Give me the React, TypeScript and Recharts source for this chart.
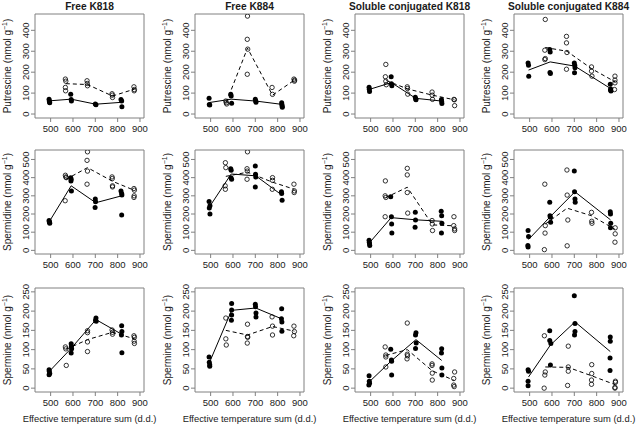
import React from 'react';
import { ScatterChart, Scatter, XAxis, YAxis, ReferenceArea } from 'recharts';

type Pt = [number, number];

// ---------- tick labels / categories ----------
const columnTitles = ['Free K818', 'Free K884', 'Soluble conjugated K818', 'Soluble conjugated K884'];
const rowNames = ['Putrescine', 'Spermidine', 'Spermine'];
const xTicks = [500, 600, 700, 800, 900];
const putTicks = [0, 100, 200, 300, 400];
const spdTicks = [0, 100, 200, 300, 400, 500];
const spmTicks = [0, 50, 100, 150, 200, 250];
const xLabel = 'Effective temperature sum (d.d.)';

// ---------- Putrescine ----------
const putFreeK818Filled: Pt[] = [[493, 71], [494, 62], [496, 54], [495, 58], [590, 94], [592, 70], [593, 62], [700, 48], [703, 44], [815, 70], [818, 62], [819, 35]];
const putFreeK818Open: Pt[] = [[566, 167], [568, 157], [566, 127], [567, 111], [663, 159], [664, 146], [665, 135], [775, 97], [776, 90], [777, 79], [873, 130], [875, 117], [874, 111]];
const putFreeK818Solid: Pt[] = [[495, 63], [592, 71], [702, 47], [818, 56]];
const putFreeK818Dashed: Pt[] = [[568, 145], [665, 141], [777, 86], [875, 119]];

const putFreeK884Filled: Pt[] = [[493, 75], [494, 46], [496, 43], [590, 94], [592, 86], [594, 51], [700, 71], [702, 62], [703, 56], [818, 54], [819, 46], [820, 38], [821, 32]];
const putFreeK884Open: Pt[] = [[568, 62], [570, 54], [572, 48], [665, 468], [664, 357], [666, 310], [664, 190], [775, 127], [777, 94], [873, 167], [875, 157], [876, 162]];
const putFreeK884Solid: Pt[] = [[495, 55], [592, 71], [702, 62], [820, 46]];
const putFreeK884Dashed: Pt[] = [[570, 55], [665, 315], [777, 90], [875, 162]];

const putSolK818Filled: Pt[] = [[493, 128], [494, 118], [495, 108], [592, 178], [593, 145], [595, 135], [700, 80], [702, 72], [703, 68], [817, 70], [818, 60], [819, 50]];
const putSolK818Open: Pt[] = [[568, 237], [566, 178], [568, 157], [570, 140], [664, 130], [665, 122], [666, 95], [775, 105], [776, 90], [777, 70], [873, 70], [875, 68], [876, 40]];
const putSolK818Solid: Pt[] = [[495, 118], [593, 150], [702, 75], [818, 62]];
const putSolK818Dashed: Pt[] = [[570, 160], [665, 120], [777, 90], [875, 68]];

const putSolK884Filled: Pt[] = [[493, 244], [495, 233], [496, 181], [590, 308], [592, 297], [591, 198], [593, 194], [700, 244], [702, 233], [703, 221], [701, 197], [861, 142], [863, 120], [862, 115], [864, 110]];
const putSolK884Open: Pt[] = [[570, 452], [568, 305], [570, 265], [568, 260], [665, 371], [665, 340], [667, 294], [665, 214], [777, 225], [777, 205], [779, 181], [882, 181], [882, 162], [882, 149], [880, 117]];
const putSolK884Solid: Pt[] = [[495, 210], [592, 249], [702, 229], [862, 122]];
const putSolK884Dashed: Pt[] = [[570, 318], [667, 300], [777, 217], [882, 154]];

// ---------- Spermidine ----------
const spdFreeK818Filled: Pt[] = [[493, 164], [494, 158], [495, 155], [496, 149], [590, 400], [592, 391], [591, 382], [593, 327], [700, 282], [701, 267], [699, 236], [815, 327], [818, 313], [819, 304], [818, 195]];
const spdFreeK818Open: Pt[] = [[566, 413], [568, 404], [570, 400], [565, 273], [665, 542], [663, 495], [665, 436], [663, 364], [775, 404], [776, 395], [777, 355], [777, 349], [873, 340], [875, 331], [874, 300], [873, 291]];
const spdFreeK818Solid: Pt[] = [[495, 160], [592, 355], [702, 262], [818, 300]];
const spdFreeK818Dashed: Pt[] = [[568, 390], [665, 455], [777, 380], [875, 330]];

const spdFreeK884Filled: Pt[] = [[493, 269], [494, 233], [497, 245], [497, 200], [590, 449], [592, 440], [591, 400], [594, 391], [700, 464], [701, 418], [702, 404], [700, 349], [817, 322], [818, 313], [820, 276]];
const spdFreeK884Open: Pt[] = [[566, 482], [568, 455], [565, 355], [566, 336], [665, 542], [663, 449], [664, 436], [663, 391], [777, 400], [777, 385], [776, 336], [873, 364], [875, 327], [874, 318]];
const spdFreeK884Solid: Pt[] = [[495, 240], [592, 420], [702, 410], [818, 305]];
const spdFreeK884Dashed: Pt[] = [[568, 407], [665, 430], [777, 375], [875, 336]];

const spdSolK818Filled: Pt[] = [[493, 55], [494, 45], [495, 36], [496, 27], [590, 295], [593, 185], [594, 145], [595, 95], [700, 209], [701, 167], [699, 127], [816, 215], [818, 191], [819, 149], [817, 95]];
const spdSolK818Open: Pt[] = [[566, 382], [565, 300], [568, 291], [565, 185], [664, 451], [664, 415], [664, 318], [666, 205], [775, 164], [776, 145], [777, 109], [873, 185], [872, 136], [876, 118], [876, 109]];
const spdSolK818Solid: Pt[] = [[495, 42], [592, 180], [702, 168], [818, 160]];
const spdSolK818Dashed: Pt[] = [[567, 290], [664, 347], [777, 140], [875, 135]];

const spdSolK884Filled: Pt[] = [[493, 109], [495, 76], [492, 27], [493, 18], [590, 264], [591, 191], [593, 182], [594, 155], [700, 436], [701, 322], [703, 282], [704, 264], [861, 213], [862, 200], [863, 149], [862, 124]];
const spdSolK884Open: Pt[] = [[568, 364], [570, 136], [569, 95], [566, 4], [667, 442], [668, 304], [671, 167], [668, 25], [777, 209], [778, 160], [779, 149], [883, 124], [883, 91], [882, 45]];
const spdSolK884Solid: Pt[] = [[495, 60], [592, 185], [703, 322], [862, 168]];
const spdSolK884Dashed: Pt[] = [[570, 145], [668, 232], [778, 190], [883, 115]];

// ---------- Spermine ----------
const spmFreeK818Filled: Pt[] = [[493, 48], [494, 44], [496, 38], [493, 35], [592, 115], [593, 109], [594, 102], [592, 91], [703, 182], [701, 176], [704, 174], [818, 162], [819, 147], [817, 138], [819, 92]];
const spmFreeK818Open: Pt[] = [[566, 107], [568, 102], [570, 59], [665, 149], [665, 144], [665, 120], [665, 95], [775, 151], [777, 145], [777, 140], [873, 136], [875, 132], [874, 122], [875, 116]];
const spmFreeK818Solid: Pt[] = [[495, 44], [593, 104], [703, 178], [818, 140]];
const spmFreeK818Dashed: Pt[] = [[570, 101], [665, 126], [777, 145], [875, 128]];

const spmFreeK884Filled: Pt[] = [[493, 81], [494, 67], [496, 61], [496, 57], [594, 220], [594, 203], [594, 190], [593, 176], [700, 218], [701, 211], [703, 195], [703, 185], [818, 206], [817, 180], [819, 172], [819, 148]];
const spmFreeK884Open: Pt[] = [[568, 182], [568, 128], [570, 112], [665, 166], [665, 134], [666, 132], [664, 117], [775, 185], [777, 161], [777, 138], [873, 161], [875, 147], [872, 136]];
const spmFreeK884Solid: Pt[] = [[495, 67], [594, 202], [702, 208], [818, 180]];
const spmFreeK884Dashed: Pt[] = [[568, 150], [665, 138], [777, 160], [875, 148]];

const spmSolK818Filled: Pt[] = [[493, 32], [494, 18], [495, 13], [492, 8], [590, 101], [593, 73], [594, 70], [594, 34], [703, 144], [701, 138], [704, 117], [701, 103], [818, 102], [817, 91], [819, 52], [819, 34]];
const spmSolK818Open: Pt[] = [[565, 107], [568, 86], [568, 81], [568, 55], [664, 169], [664, 88], [665, 84], [663, 76], [775, 63], [775, 59], [776, 39], [776, 21], [876, 42], [872, 25], [872, 8], [874, 4]];
const spmSolK818Solid: Pt[] = [[495, 17], [593, 71], [703, 126], [818, 72]];
const spmSolK818Dashed: Pt[] = [[568, 85], [664, 100], [776, 45], [874, 20]];

const spmSolK884Filled: Pt[] = [[493, 48], [495, 44], [493, 18], [493, 6], [590, 149], [590, 124], [595, 116], [593, 60], [700, 240], [703, 168], [703, 147], [701, 138], [861, 133], [861, 122], [860, 78], [860, 46]];
const spmSolK884Open: Pt[] = [[566, 136], [570, 42], [568, 34], [565, 0], [673, 109], [673, 55], [673, 44], [670, 7], [778, 61], [778, 38], [777, 21], [777, 10], [884, 18], [884, 15], [882, 2], [882, 0]];
const spmSolK884Solid: Pt[] = [[495, 29], [593, 112], [703, 172], [861, 95]];
const spmSolK884Dashed: Pt[] = [[570, 55], [672, 54], [778, 32], [883, 9]];

// ---------- layout ----------
const COL_LEFT = [35, 195, 355, 514];
const ROW_TOP = [14, 150, 288];
const BOX_W = 109;
const BOX_H = 104;
const ML = 30;
const MT = 5;
const MR = 5;
const MB = 24;
const X_DOMAIN: [number, number] = [430, 918];
const Y_DOMAINS: [number, number][] = [[-19, 478], [-20, 552], [-10, 260]];
const Y_TICKS = [putTicks, spdTicks, spmTicks];
const AX = '#808080';
const TXT = '#1a1a1a';
const FONT = '"Liberation Sans", Arial, Helvetica, sans-serif';

const panels = [
  [
    [putFreeK818Filled, putFreeK818Open, putFreeK818Solid, putFreeK818Dashed],
    [putFreeK884Filled, putFreeK884Open, putFreeK884Solid, putFreeK884Dashed],
    [putSolK818Filled, putSolK818Open, putSolK818Solid, putSolK818Dashed],
    [putSolK884Filled, putSolK884Open, putSolK884Solid, putSolK884Dashed],
  ],
  [
    [spdFreeK818Filled, spdFreeK818Open, spdFreeK818Solid, spdFreeK818Dashed],
    [spdFreeK884Filled, spdFreeK884Open, spdFreeK884Solid, spdFreeK884Dashed],
    [spdSolK818Filled, spdSolK818Open, spdSolK818Solid, spdSolK818Dashed],
    [spdSolK884Filled, spdSolK884Open, spdSolK884Solid, spdSolK884Dashed],
  ],
  [
    [spmFreeK818Filled, spmFreeK818Open, spmFreeK818Solid, spmFreeK818Dashed],
    [spmFreeK884Filled, spmFreeK884Open, spmFreeK884Solid, spmFreeK884Dashed],
    [spmSolK818Filled, spmSolK818Open, spmSolK818Solid, spmSolK818Dashed],
    [spmSolK884Filled, spmSolK884Open, spmSolK884Solid, spmSolK884Dashed],
  ],
];

const toObj = (a: Pt[]) => a.map(([x, y]) => ({ x, y }));

const FilledDot = (p: any) => <circle cx={p.cx} cy={p.cy} r={2.5} fill="#000" />;
const OpenDot = (p: any) => <circle cx={p.cx} cy={p.cy} r={2.2} fill="none" stroke="#000" strokeWidth={0.8} />;
const NoDot = () => <g />;

const XTick = (p: any) => (
  <g>
    <text x={p.x} y={MT + BOX_H + 11} dy="0.35em" textAnchor="middle" fontSize={9.5} fill={TXT} fontFamily={FONT}>
      {p.payload.value}
    </text>
  </g>
);

const YTick = (p: any) => {
  const cx = ML - 9;
  return (
    <g>
      <text x={cx} y={p.y} dy="0.35em" textAnchor="middle" fontSize={9.5} fill={TXT} fontFamily={FONT} transform={`rotate(-90, ${cx}, ${p.y})`}>
        {p.payload.value}
      </text>
    </g>
  );
};

function Panel({ row, col }: { row: number; col: number }) {
  const [filled, open, solid, dashed] = panels[row][col];
  const yDomain = Y_DOMAINS[row];
  return (
    <div style={{ position: 'absolute', left: COL_LEFT[col] - ML, top: ROW_TOP[row] - MT }}>
      <ScatterChart width={ML + BOX_W + MR} height={MT + BOX_H + MB} margin={{ top: MT, right: MR, bottom: 0, left: 0 }}>
        <XAxis
          type="number"
          dataKey="x"
          domain={X_DOMAIN}
          ticks={xTicks}
          allowDataOverflow
          axisLine={false}
          tickSize={4}
          tickLine={{ stroke: AX }}
          tick={XTick}
          height={MB}
          interval={0}
        />
        <YAxis
          type="number"
          dataKey="y"
          domain={yDomain}
          ticks={Y_TICKS[row]}
          allowDataOverflow
          axisLine={false}
          tickSize={4}
          tickLine={{ stroke: AX }}
          tick={YTick}
          width={ML}
          interval={0}
        />
        <ReferenceArea x1={X_DOMAIN[0]} x2={X_DOMAIN[1]} y1={yDomain[0]} y2={yDomain[1]} fill="none" stroke={AX} strokeWidth={1} ifOverflow="visible" />
        <Scatter data={toObj(solid)} line={{ stroke: '#000', strokeWidth: 1 }} shape={NoDot} isAnimationActive={false} />
        <Scatter data={toObj(dashed)} line={{ stroke: '#000', strokeWidth: 1, strokeDasharray: '4 3' }} shape={NoDot} isAnimationActive={false} />
        <Scatter data={toObj(filled)} shape={FilledDot} isAnimationActive={false} />
        <Scatter data={toObj(open)} shape={OpenDot} isAnimationActive={false} />
      </ScatterChart>
    </div>
  );
}

export default function App() {
  return (
    <div style={{ position: 'absolute', left: 0, top: 0, width: 638, height: 426, background: '#fff', fontFamily: FONT }}>
      {[0, 1, 2].map((r) => [0, 1, 2, 3].map((c) => <Panel key={`${r}-${c}`} row={r} col={c} />))}
      <svg width={638} height={426} style={{ position: 'absolute', left: 0, top: 0, pointerEvents: 'none' }}>
        {columnTitles.map((t, c) => (
          <text key={t} x={COL_LEFT[c] + BOX_W / 2} y={6} dy="0.35em" textAnchor="middle" fontSize={10.2} fontWeight="bold" fill={TXT} fontFamily={FONT}>
            {t}
          </text>
        ))}
        {[0, 1, 2].map((r) =>
          [0, 1, 2, 3].map((c) => {
            const cx = COL_LEFT[c] - 28;
            const cy = ROW_TOP[r] + BOX_H / 2;
            return (
              <text key={`yl-${r}-${c}`} x={cx} y={cy} dy="0.35em" textAnchor="middle" fontSize={10} fill={TXT} fontFamily={FONT} transform={`rotate(-90, ${cx}, ${cy})`}>
                {rowNames[r]} (nmol g
                <tspan fontSize={7} dy={-4}>−1</tspan>
                <tspan dy={4}>)</tspan>
              </text>
            );
          })
        )}
        {[0, 1, 2, 3].map((c) => (
          <text key={`xl-${c}`} x={COL_LEFT[c] + BOX_W / 2} y={419} dy="0.35em" textAnchor="middle" fontSize={9.4} fill={TXT} fontFamily={FONT}>
            {xLabel}
          </text>
        ))}
      </svg>
    </div>
  );
}
